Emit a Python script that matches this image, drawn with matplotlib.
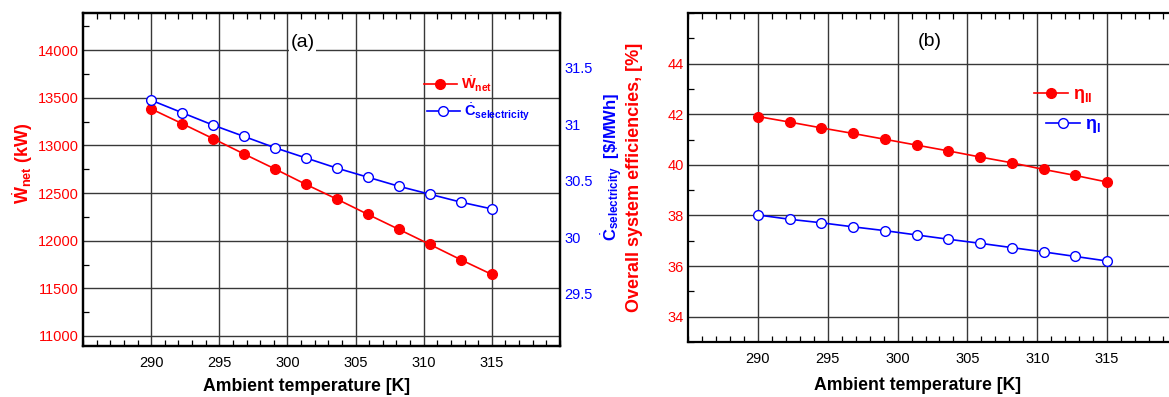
import matplotlib
matplotlib.use("Agg")
import matplotlib.pyplot as plt
from matplotlib.ticker import MultipleLocator

plt.rcParams['font.family'] = ['Liberation Sans', 'DejaVu Sans']
plt.rcParams['mathtext.fontset'] = 'custom'
plt.rcParams['mathtext.rm'] = 'Liberation Sans'
plt.rcParams['mathtext.it'] = 'Liberation Sans:italic'
plt.rcParams['mathtext.bf'] = 'Liberation Sans:bold'

# ---------------- data ----------------
temps = [290.0, 292.27, 294.55, 296.82, 299.09, 301.36, 303.64, 305.91, 308.18, 310.45, 312.73, 315.0]
w_net = [13384, 13229, 13071, 12910, 12753, 12591, 12436, 12276, 12119, 11961, 11800, 11646]
c_elec = [31.21, 31.10, 30.99, 30.89, 30.79, 30.70, 30.61, 30.53, 30.45, 30.38, 30.31, 30.25]
eta_II = [41.91, 41.69, 41.46, 41.24, 41.01, 40.78, 40.55, 40.31, 40.08, 39.82, 39.58, 39.32]
eta_I = [38.02, 37.85, 37.71, 37.55, 37.40, 37.23, 37.06, 36.90, 36.73, 36.56, 36.38, 36.20]

x_ticks = [290, 295, 300, 305, 310, 315]
w_ticks = [11000, 11500, 12000, 12500, 13000, 13500, 14000]
c_ticks = [29.5, 30, 30.5, 31, 31.5]
c_labels = ['29.5', '30', '30.5', '31', '31.5']
eta_ticks = [34, 36, 38, 40, 42, 44]

RED = '#ff0000'
BLUE = '#0000ff'
GRID = '#383838'

fig = plt.figure(figsize=(11.69, 3.97), dpi=100)

W, H = 1169.0, 397.0
def rect(x0, y0, x1, y1):
    return [x0 / W, 1 - y1 / H, (x1 - x0) / W, (y1 - y0) / H]

axL = fig.add_axes(rect(83, 13, 560, 346))
axR = fig.add_axes(rect(688, 13, 1177, 342))

def style(ax):
    for s in ax.spines.values():
        s.set_linewidth(1.6)
        s.set_color('black')
    ax.set_xlim(285, 320)
    ax.set_xticks(x_ticks)
    ax.xaxis.set_minor_locator(MultipleLocator(1))
    ax.grid(True, which='major', color=GRID, linewidth=1.0)
    ax.set_axisbelow(True)
    ax.tick_params(which='both', direction='in', top=True, right=False)
    ax.tick_params(which='major', length=0, labelsize=10.5)
    ax.tick_params(which='minor', length=4, width=0.9)
    ax.tick_params(axis='x', which='major', pad=7)
    ax.set_xlabel('Ambient temperature [K]', fontsize=12.7, fontweight='bold')

# ---------- left panel ----------
style(axL)
axL.set_ylim(10895, 14390)
axL.set_yticks(w_ticks)
axL.yaxis.set_minor_locator(MultipleLocator(250))
axL.tick_params(axis='y', labelcolor=RED, pad=3)
lw, = axL.plot(temps, w_net, color=RED, lw=1.2, marker='o', markersize=7,
               markerfacecolor=RED, markeredgecolor=RED,
               label=r'$\dot{\mathbf{W}}_{\mathbf{net}}$')
axL.set_ylabel(r'$\dot{\mathbf{W}}_{\mathbf{net}}$ (kW)', color=RED,
               fontsize=13, fontweight='bold')
axL.yaxis.set_label_coords(-0.101, 0.55)
axL.xaxis.set_label_coords(0.469, -0.095)

axC = axL.twinx()
axC.set_ylim(29.04, 31.98)
axC.set_yticks(c_ticks)
axC.set_yticklabels(c_labels)
axC.tick_params(axis='y', length=0, labelcolor=BLUE, labelsize=10.5, pad=3)
for s in axC.spines.values():
    s.set_linewidth(1.6)
lc, = axC.plot(temps, c_elec, color=BLUE, lw=1.2, marker='o', markersize=7,
               markerfacecolor='white', markeredgecolor=BLUE, markeredgewidth=1.0,
               label=r'$\dot{\mathbf{C}}_{\mathbf{selectricity}}$')
axC.set_ylabel(r'$\dot{\mathbf{C}}_{\mathbf{selectricity}}$  [\$/MWh]', color=BLUE,
               fontsize=12, fontweight='bold')
axC.yaxis.set_label_coords(1.082, 0.537)

leg_kw = dict(frameon=False, borderpad=0, borderaxespad=0, handlelength=2.3,
              handletextpad=0.25, loc='center left', labelcolor='linecolor',
              prop={'weight': 'bold', 'size': 10.5})
l1 = axC.legend(handles=[lw], bbox_to_anchor=(0.714, 0.787), **leg_kw)
axC.add_artist(l1)
axC.legend(handles=[lc], bbox_to_anchor=(0.7206, 0.702), **leg_kw)

axL.text(0.461, 0.91, '(a)', transform=axL.transAxes, fontsize=14, ha='center',
         va='center', bbox=dict(facecolor='white', edgecolor='none', pad=1))

# ---------- right panel ----------
style(axR)
axR.set_ylim(33, 46)
axR.set_yticks(eta_ticks)
axR.yaxis.set_minor_locator(MultipleLocator(1))
axR.tick_params(axis='y', labelcolor=RED, pad=3)
l2, = axR.plot(temps, eta_II, color=RED, lw=1.2, marker='o', markersize=7,
               markerfacecolor=RED, markeredgecolor=RED, label=r'η$_{\mathbf{II}}$')
l3, = axR.plot(temps, eta_I, color=BLUE, lw=1.2, marker='o', markersize=7,
               markerfacecolor='white', markeredgecolor=BLUE, markeredgewidth=1.0,
               label=r'η$_{\mathbf{I}}$')
axR.set_ylabel('Overall system efficiencies, [%]', color=RED, fontsize=13,
               fontweight='bold')
axR.yaxis.set_label_coords(-0.092, 0.5)
axR.xaxis.set_label_coords(0.47, -0.105)

leg_kw2 = dict(leg_kw)
leg_kw2['prop'] = {'weight': 'bold', 'size': 13}
leg_kw2['handlelength'] = 1.9
l4 = axR.legend(handles=[l2], bbox_to_anchor=(0.7076, 0.748), **leg_kw2)
axR.add_artist(l4)
axR.legend(handles=[l3], bbox_to_anchor=(0.732, 0.657), **leg_kw2)

axR.text(0.495, 0.912, '(b)', transform=axR.transAxes, fontsize=14, ha='center',
         va='center', bbox=dict(facecolor='white', edgecolor='none', pad=1))

fig.savefig('out.png', dpi=100)
